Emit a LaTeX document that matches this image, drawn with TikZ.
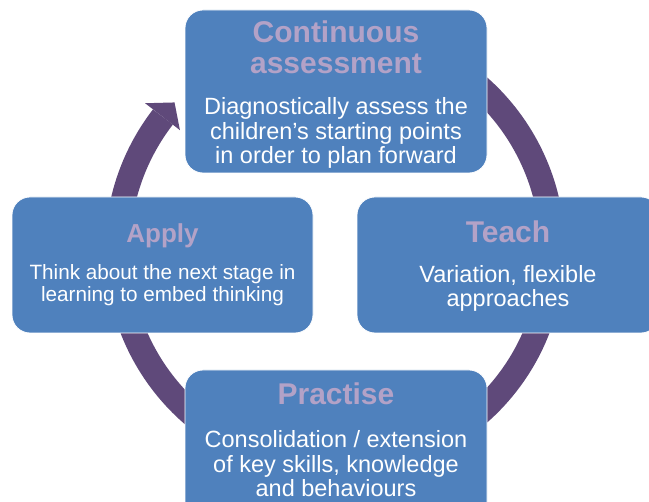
\documentclass[tikz,border=0pt]{standalone}
\usepackage{fontspec}
\setmainfont{Liberation Sans}
\definecolor{boxblue}{HTML}{4F81BD}
\definecolor{titlepurple}{HTML}{B3A2C7}
\definecolor{ringpurple}{HTML}{5F497A}
\begin{document}
\begin{tikzpicture}[x=1pt,y=1pt,
  stagebox/.style={rectangle, rounded corners=18pt, fill=boxblue, draw=white, line width=0.8pt,
    inner sep=0pt, outer sep=0pt},
  titletext/.style={anchor=base, align=center, text=titlepurple, font=\bfseries\fontsize{30}{31}\selectfont},
  bodytext/.style={anchor=base, align=center, text=white, font=\fontsize{23.5}{24.5}\selectfont},
]
\useasboundingbox (0,0) rectangle (649,-502);
% ring
\coordinate (ringc) at (335,-250);
\draw[ringpurple, line width=25pt] ([shift={(75:217.5)}]ringc) arc[start angle=75, end angle=-217.7, radius=217.5];
\fill[ringpurple] ([shift={(142.3:240)}]ringc) -- ([shift={(137.4:218)}]ringc) -- ([shift={(142.3:196)}]ringc) -- cycle;
% boxes
\node[stagebox, minimum width=302pt, minimum height=163pt] (assess) at (336,-91.5) {};
\node[stagebox, minimum width=301pt, minimum height=136pt] (apply) at (162.5,-265) {};
\node[stagebox, minimum width=302pt, minimum height=136pt] (teach) at (508,-265) {};
\node[stagebox, minimum width=302pt, minimum height=163pt] (practise) at (336,-451.5) {};
% texts (base anchor = baseline of the last line)
\node[titletext] (assessT) at (336,-74) {Continuous\\assessment};
\node[bodytext] (assessB) at (336,-164) {Diagnostically assess the\\children’s starting points\\in order to plan forward};
\node[titletext, font=\bfseries\fontsize{26}{27}\selectfont] (applyT) at (162.5,-243) {Apply};
\node[bodytext, font=\fontsize{20.7}{22}\selectfont] (applyB) at (162.5,-302) {Think about the next stage in\\learning to embed thinking};
\node[titletext] (teachT) at (508,-243) {Teach};
\node[bodytext] (teachB) at (508,-307) {Variation, flexible\\approaches};
\node[titletext] (practiseT) at (336,-405) {Practise};
\node[bodytext] (practiseB) at (336,-497) {Consolidation / extension\\of key skills, knowledge\\and behaviours};
\end{tikzpicture}
\end{document}
